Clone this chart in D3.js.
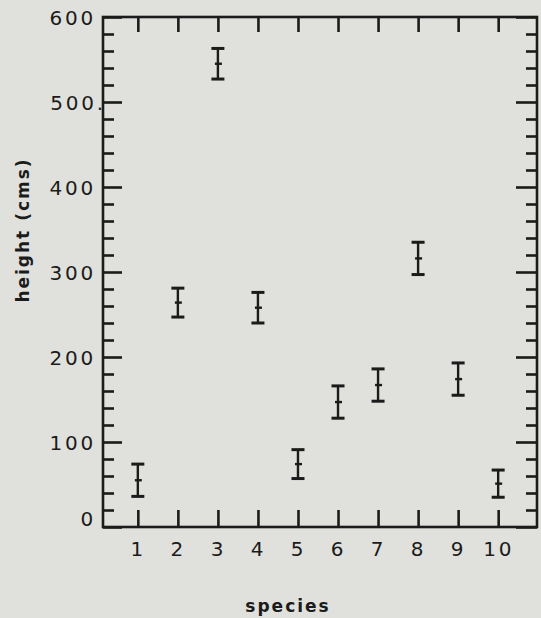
<!DOCTYPE html>
<html>
<head>
<meta charset="utf-8">
<script src="https://cdn.jsdelivr.net/npm/d3@7"></script>
<style>
  html, body { margin: 0; padding: 0; background: #e0e1dc; }
  svg { display: block; }
  .axis path { display: none; }
  .axis line { stroke: #1b1b1b; stroke-width: 2.6; }
  .axis text { font-family: "DejaVu Sans", sans-serif; font-size: 20px; fill: #1b1b1b; letter-spacing: 2.8px; }
  .title { font-family: "DejaVu Sans", sans-serif; font-weight: bold; fill: #1b1b1b; }
</style>
</head>
<body>
<svg id="chart" width="541" height="618"></svg>
<script>
// Mean height per species with the half-width of its error bar (cm)
const species = [1, 2, 3, 4, 5, 6, 7, 8, 9, 10];
const meanHeight = [55, 264, 545, 258, 74, 147, 167, 316, 174, 51];
const errHalf = [19, 17, 18, 18, 17, 19, 19, 19, 19, 16];

// Axis ticks
const yMajorTicks = [0, 100, 200, 300, 400, 500, 600];
const yTickLabels = ["0", "100", "200", "300", "400", "500.", "600"];
const yMinorStep = 20;
const xTickLabels = ["1", "2", "3", "4", "5", "6", "7", "8", "9", "10"];

const svg = d3.select("#chart");
const plotLeft = 103, plotRight = 537, plotTop = 17, plotBottom = 527;

const x = d3.scaleLinear().domain([0.13, 10.97]).range([plotLeft, plotRight]);
const y = d3.scaleLinear().domain([0, 600]).range([plotBottom, plotTop]);

const yMinorTicks = d3.range(0, 601, yMinorStep).filter(v => v % 100 !== 0);

// Left axis: major ticks with labels, minor ticks without
svg.append("g").attr("class", "axis").attr("transform", `translate(${plotLeft},0)`)
  .call(d3.axisLeft(y).tickValues(yMajorTicks).tickSize(-19).tickPadding(7)
    .tickFormat((d, i) => yTickLabels[i]))
  .call(g => g.selectAll("text")
    .attr("dx", (d, i) => yTickLabels[i].endsWith(".") ? 10 : 0)
    .attr("dy", d => d === 0 ? "-0.1em" : "0.36em"));
svg.append("g").attr("class", "axis").attr("transform", `translate(${plotLeft},0)`)
  .call(d3.axisLeft(y).tickValues(yMinorTicks).tickSize(-11).tickFormat(""));

// Right axis: inward ticks only
svg.append("g").attr("class", "axis").attr("transform", `translate(${plotRight},0)`)
  .call(d3.axisRight(y).tickValues(yMajorTicks).tickSize(-21).tickFormat(""));
svg.append("g").attr("class", "axis").attr("transform", `translate(${plotRight},0)`)
  .call(d3.axisRight(y).tickValues(yMinorTicks).tickSize(-11).tickFormat(""));

// Bottom axis: upward ticks with species numbers
svg.append("g").attr("class", "axis").attr("transform", `translate(0,${plotBottom})`)
  .call(d3.axisBottom(x).tickValues(species).tickSize(-17).tickPadding(15)
    .tickFormat((d, i) => xTickLabels[i]));

// Top axis: downward ticks
svg.append("g").attr("class", "axis").attr("transform", `translate(0,${plotTop})`)
  .call(d3.axisTop(x).tickValues(species).tickSize(-15).tickFormat(""));

// Plot frame
svg.append("rect")
  .attr("x", plotLeft).attr("y", plotTop)
  .attr("width", plotRight - plotLeft).attr("height", plotBottom - plotTop)
  .attr("fill", "none").attr("stroke", "#1b1b1b").attr("stroke-width", 2.6);

// Error bars
const data = species.map((s, i) => ({ s, m: meanHeight[i], e: errHalf[i] }));
const bars = svg.append("g").attr("stroke", "#1b1b1b").selectAll("g")
  .data(data).join("g");
const capW = 6.5;
bars.append("line")
  .attr("x1", d => x(d.s)).attr("x2", d => x(d.s))
  .attr("y1", d => y(d.m + d.e)).attr("y2", d => y(d.m - d.e))
  .attr("stroke-width", 2.4);
bars.append("line")
  .attr("x1", d => x(d.s) - capW).attr("x2", d => x(d.s) + capW)
  .attr("y1", d => y(d.m + d.e)).attr("y2", d => y(d.m + d.e))
  .attr("stroke-width", 3);
bars.append("line")
  .attr("x1", d => x(d.s) - capW).attr("x2", d => x(d.s) + capW)
  .attr("y1", d => y(d.m - d.e)).attr("y2", d => y(d.m - d.e))
  .attr("stroke-width", 3);
bars.append("line")
  .attr("x1", d => x(d.s) - 3).attr("x2", d => x(d.s) + 4)
  .attr("y1", d => y(d.m)).attr("y2", d => y(d.m))
  .attr("stroke-width", 2.4);

// Axis titles
svg.append("text").attr("class", "title")
  .attr("transform", "translate(29,230) rotate(-90)")
  .attr("text-anchor", "middle")
  .style("font-size", "17px").style("letter-spacing", "2px")
  .text("height (cms)");
svg.append("text").attr("class", "title")
  .attr("x", 288).attr("y", 612)
  .attr("text-anchor", "middle")
  .style("font-size", "17px").style("letter-spacing", "2px")
  .text("species");
</script>
</body>
</html>
